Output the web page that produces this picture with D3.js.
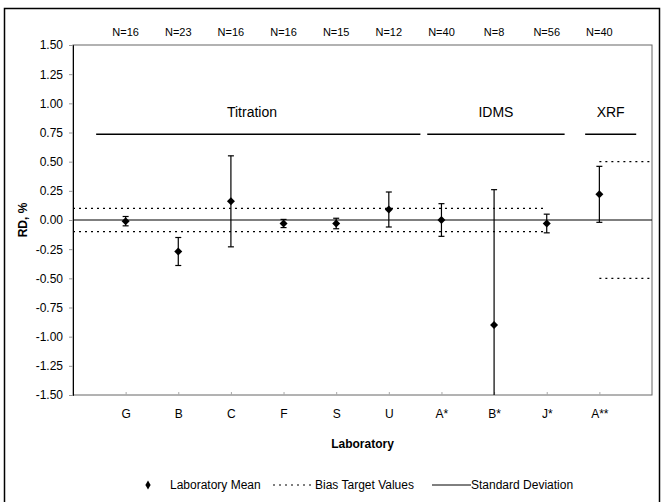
<!DOCTYPE html>
<html>
<head>
<meta charset="utf-8">
<script src="https://cdn.jsdelivr.net/npm/d3@7"></script>
<style>
  body { margin: 0; background: #fff; }
  svg text { font-family: 'Liberation Sans', Arial, sans-serif; fill: #000; }
</style>
</head>
<body>
<svg id="chart" width="662" height="502"></svg>
<script>
/* global d3 */

// ---- data ----
const labs = ['G', 'B', 'C', 'F', 'S', 'U', 'A*', 'B*', 'J*', 'A**']
const counts = [16, 23, 16, 16, 15, 12, 40, 8, 56, 40]
const means = [-0.01, -0.27, 0.16, -0.03, -0.03, 0.09, 0.00, -0.90, -0.03, 0.22]
const sds = [0.04, 0.12, 0.39, 0.035, 0.045, 0.15, 0.14, 1.16, 0.08, 0.24]
const yTicks = [1.5, 1.25, 1.0, 0.75, 0.5, 0.25, 0, -0.25, -0.5, -0.75, -1.0, -1.25, -1.5]
const methods = ['Titration', 'IDMS', 'XRF']
const methodFirst = ['G', 'A*', 'A**']
const methodLast = ['U', 'J*', 'A**']
const biasLow = [-0.1, -0.1, -0.5]
const biasHigh = [0.1, 0.1, 0.5]

const svg = d3.select('#chart')
const margins = { top: 45, right: 10, bottom: 107, left: 73 }
const plotRight = 652

const x = d3.scalePoint().domain(labs).range([margins.left, plotRight]).padding(1)
const y = d3.scaleLinear().domain([-1.5, 1.5]).range([395, 45])
const step = x.step()

// hyphen minus like the original, not the unicode minus
const fmt = d3.formatLocale({ decimal: '.', thousands: ',', grouping: [3], currency: ['$', ''], minus: '-' }).format('.2f')

// outer frame
svg.append('rect')
  .attr('x', 4.5).attr('y', 8.5)
  .attr('width', 655).attr('height', 500)
  .attr('fill', 'none').attr('stroke', '#000').attr('stroke-width', 1.5)

// plot area border
svg.append('rect')
  .attr('x', margins.left).attr('y', y(1.5))
  .attr('width', plotRight - margins.left).attr('height', y(-1.5) - y(1.5))
  .attr('fill', 'none').attr('stroke', '#666').attr('stroke-width', 1)

// y axis
const yAxis = d3.axisLeft(y)
  .tickValues(yTicks)
  .tickSize(4)
  .tickPadding(6)
  .tickFormat(fmt)
const gy = svg.append('g').attr('transform', `translate(${margins.left},0)`).call(yAxis)
gy.select('.domain').attr('stroke', '#000')
gy.selectAll('.tick line').attr('stroke', '#999')
gy.selectAll('text').style('font-size', '12px').attr('fill', '#000')

// x axis (labels along the bottom)
const xAxis = d3.axisBottom(x).tickSize(-3).tickPadding(14)
const gx = svg.append('g').attr('transform', `translate(0,${y(-1.5)})`).call(xAxis)
gx.select('.domain').remove()
gx.selectAll('.tick line').attr('stroke', '#aaa')
gx.selectAll('text').style('font-size', '12px').attr('fill', '#000')

// N labels on top
svg.append('g').selectAll('text')
  .data(labs)
  .join('text')
  .attr('x', d => x(d))
  .attr('y', 36)
  .attr('text-anchor', 'middle')
  .style('font-size', '11px')
  .text((d, i) => 'N=' + counts[i])

// axis titles
svg.append('text')
  .attr('transform', `translate(27,${y(0)}) rotate(-90)`)
  .attr('text-anchor', 'middle')
  .style('font-size', '12px').style('font-weight', 'bold')
  .text('RD, %')

svg.append('text')
  .attr('x', (margins.left + plotRight) / 2)
  .attr('y', 448)
  .attr('text-anchor', 'middle')
  .style('font-size', '12px').style('font-weight', 'bold')
  .text('Laboratory')

// zero line
svg.append('line')
  .attr('x1', margins.left).attr('x2', plotRight)
  .attr('y1', y(0)).attr('y2', y(0))
  .attr('stroke', '#000').attr('stroke-width', 1.2)

// bias target lines (dotted); titration + IDMS share one band
const bands = [
  { x1: margins.left, x2: x('J*'), i: 0 },
  { x1: x('A**'), x2: plotRight, i: 2 }
]
bands.forEach(b => {
  ;[biasLow[b.i], biasHigh[b.i]].forEach(v => {
    svg.append('line')
      .attr('x1', b.x1).attr('x2', b.x2)
      .attr('y1', y(v)).attr('y2', y(v))
      .attr('stroke', '#000').attr('stroke-width', 1.2)
      .attr('stroke-dasharray', '2,4')
  })
})

// method group headers
const groupPadL = [-0.56, -0.27, -0.27]
const groupPadR = [0.6, 0.34, 0.7]
methods.forEach((m, i) => {
  const x1 = x(methodFirst[i]) + groupPadL[i] * step
  const x2 = x(methodLast[i]) + groupPadR[i] * step
  svg.append('line')
    .attr('x1', x1).attr('x2', x2)
    .attr('y1', y(0.735)).attr('y2', y(0.735))
    .attr('stroke', '#000').attr('stroke-width', 1.5)
  svg.append('text')
    .attr('x', i === 0 ? 252 : (x1 + x2) / 2)
    .attr('y', 117)
    .attr('text-anchor', 'middle')
    .style('font-size', '14px')
    .text(m)
})

// error bars
const clip = v => Math.max(-1.5, Math.min(1.5, v))
const bars = svg.append('g')
labs.forEach((d, i) => {
  const top = clip(means[i] + sds[i])
  const bot = clip(means[i] - sds[i])
  const cx = x(d)
  bars.append('line')
    .attr('x1', cx).attr('x2', cx)
    .attr('y1', y(top)).attr('y2', y(bot))
    .attr('stroke', '#000').attr('stroke-width', 1.2)
  ;[top, bot].forEach(v => {
    if (Math.abs(v) >= 1.5) return
    bars.append('line')
      .attr('x1', cx - 3).attr('x2', cx + 3)
      .attr('y1', y(v)).attr('y2', y(v))
      .attr('stroke', '#000').attr('stroke-width', 1.2)
  })
})

// means: rotated square markers like Excel's diamond
const marker = d3.symbol().type(d3.symbolSquare).size(32)
svg.append('g').selectAll('path')
  .data(labs)
  .join('path')
  .attr('d', marker)
  .attr('transform', (d, i) => `translate(${x(d)},${y(means[i])}) rotate(45)`)
  .attr('fill', '#000')

// legend
const lg = svg.append('g').attr('transform', 'translate(0,485)')
lg.append('path').attr('d', d3.symbol().type(d3.symbolDiamond).size(24)).attr('transform', 'translate(148,0)').attr('fill', '#000')
lg.append('text').attr('x', 170).attr('y', 4).style('font-size', '12px').text('Laboratory Mean')
lg.append('line').attr('x1', 273).attr('x2', 314).attr('y1', 0).attr('y2', 0)
  .attr('stroke', '#000').attr('stroke-dasharray', '2,4').attr('stroke-width', 1.2)
lg.append('text').attr('x', 315).attr('y', 4).style('font-size', '12px').text('Bias Target Values')
lg.append('line').attr('x1', 432).attr('x2', 471).attr('y1', 0).attr('y2', 0)
  .attr('stroke', '#000').attr('stroke-width', 1)
lg.append('text').attr('x', 471).attr('y', 4).style('font-size', '12px').text('Standard Deviation')
</script>
</body>
</html>
